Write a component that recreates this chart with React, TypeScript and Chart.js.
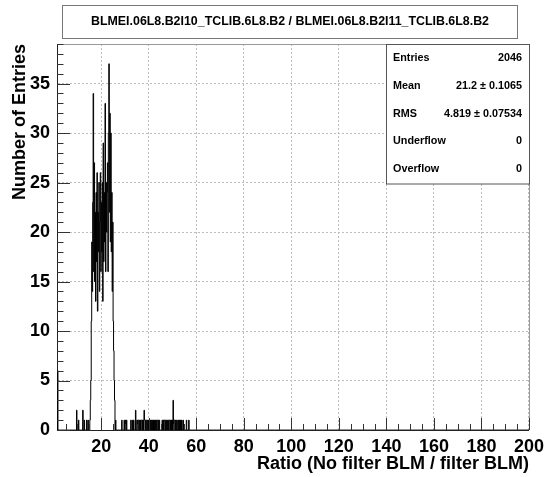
import React, { useEffect, useRef } from 'react';
import { Chart, registerables } from 'chart.js';

Chart.register(...registerables);

const TITLE = 'BLMEI.06L8.B2I10_TCLIB.6L8.B2 / BLMEI.06L8.B2I11_TCLIB.6L8.B2';
const X_TITLE = 'Ratio (No filter BLM / filter BLM)';
const Y_TITLE = 'Number of Entries';

const X_MIN = 1.4;
const X_MAX = 200;
const BIN_WIDTH = 0.2;
const Y_MIN = 0;
const Y_MAX = 39;

const xTickValues = [20, 40, 60, 80, 100, 120, 140, 160, 180, 200];
const yTickValues = [0, 5, 10, 15, 20, 25, 30, 35];
const X_MINOR_STEP = 5;
const Y_MINOR_STEP = 1;

// Main peak: consecutive bins starting at peakStart
const peakStart = 15.4;
const peakCounts = [
  3, 5, 11, 19, 14, 23, 34, 16, 27, 15,
  22, 13, 24, 17, 26, 12, 22, 18, 25, 14,
  21, 26, 16, 23, 18, 25, 13, 29, 17, 24,
  19, 33, 16, 25, 20, 24, 27, 16, 30, 37,
  22, 32, 19, 30, 18, 24, 14, 21, 11, 8,
  5, 3,
];

// Isolated bins (lower bin edge) and their counts
const sparseX = [
  1.6, 9.6, 10.4, 12.2, 12.8, 13.8, 14.4, 15.2,
  26.0, 28.6, 29.6, 30.2, 30.6, 32.4, 33.0, 33.6, 34.4,
  35.0, 35.4, 35.6, 36.0, 36.4, 36.8, 37.0, 37.4, 37.8, 38.0, 38.2, 38.6,
  39.0, 39.2, 39.6, 40.0, 40.4, 40.8, 41.2, 41.4, 41.8, 42.2, 42.6, 43.0,
  43.4, 43.6, 44.0, 44.4,
  45.6, 46.0, 46.4, 46.6, 47.0, 47.4, 47.8, 48.2, 48.6, 48.8, 49.2, 49.6,
  50.0, 50.2, 50.6, 50.8, 51.2, 51.6, 52.2, 52.6, 53.0, 53.4, 53.8,
  54.4, 55.8, 56.8,
];
const sparseCounts = [
  6, 2, 1, 2, 1, 1, 1, 1,
  1, 1, 1, 1, 1, 1, 1, 1, 2,
  1, 1, 1, 1, 1, 1, 1, 1, 1, 2, 1, 1,
  1, 1, 1, 1, 1, 1, 1, 1, 1, 1, 1, 1,
  1, 1, 1, 1,
  1, 1, 1, 1, 1, 1, 1, 1, 1, 1, 1, 1,
  1, 3, 1, 1, 1, 1, 1, 1, 1, 1, 1,
  1, 1, 1,
];

const statsLabels = ['Entries', 'Mean', 'RMS', 'Underflow', 'Overflow'];
const statsValues = ['2046', '21.2 \u00b1 0.1065', '4.819 \u00b1 0.07534', '0', '0'];

const FONT = '"Liberation Sans", Arial, Helvetica, sans-serif';

function buildPoints() {
  const nBins = Math.round((X_MAX - X_MIN) / BIN_WIDTH);
  const counts: number[] = new Array(nBins).fill(0);
  sparseX.forEach((x, i) => {
    counts[Math.round((x - X_MIN) / BIN_WIDTH)] = sparseCounts[i];
  });
  const p0 = Math.round((peakStart - X_MIN) / BIN_WIDTH);
  peakCounts.forEach((c, i) => {
    counts[p0 + i] = c;
  });
  const pts: { x: number; y: number }[] = [{ x: X_MIN, y: 0 }];
  for (let i = 0; i < nBins; i++) {
    pts.push({ x: X_MIN + i * BIN_WIDTH, y: counts[i] });
  }
  pts.push({ x: X_MAX, y: 0 });
  return pts;
}

const decorPlugin = {
  id: 'rootDecor',
  afterDraw(chart: any) {
    const { ctx, chartArea: a, scales } = chart;
    const xs = scales.x;
    const ys = scales.y;
    ctx.save();

    // frame top / right
    ctx.strokeStyle = '#999';
    ctx.lineWidth = 1;
    ctx.beginPath();
    ctx.moveTo(a.left, Math.round(a.top) + 0.5);
    ctx.lineTo(Math.round(a.right) + 0.5, Math.round(a.top) + 0.5);
    ctx.lineTo(Math.round(a.right) + 0.5, a.bottom);
    ctx.stroke();

    // ticks (inside)
    ctx.strokeStyle = '#333';
    ctx.beginPath();
    for (let v = Y_MIN; v <= Y_MAX; v += Y_MINOR_STEP) {
      const py = Math.round(ys.getPixelForValue(v)) + 0.5;
      const len = v % 5 === 0 ? 13 : 6.5;
      ctx.moveTo(a.left, py);
      ctx.lineTo(a.left + len, py);
    }
    for (let v = X_MINOR_STEP; v <= X_MAX; v += X_MINOR_STEP) {
      const px = Math.round(xs.getPixelForValue(v)) + 0.5;
      const len = v % 20 === 0 ? 12 : 6;
      ctx.moveTo(px, a.bottom);
      ctx.lineTo(px, a.bottom - len);
    }
    ctx.stroke();

    // title box
    ctx.fillStyle = '#fff';
    ctx.fillRect(62.5, 5.5, 455, 33);
    ctx.strokeStyle = '#777';
    ctx.strokeRect(62.5, 5.5, 455, 33);
    ctx.fillStyle = '#000';
    ctx.font = `bold 12.4px ${FONT}`;
    ctx.textAlign = 'center';
    ctx.textBaseline = 'middle';
    ctx.fillText(TITLE, 290, 22);

    // stats box
    const bx = 386.5;
    const by = Math.round(a.top) + 0.5;
    const bw = Math.round(a.right) - 386;
    const bh = 184 - by;
    ctx.fillStyle = '#fff';
    ctx.fillRect(bx, by, bw, bh);
    ctx.strokeStyle = '#555';
    ctx.strokeRect(bx, by, bw, bh);
    ctx.fillStyle = '#000';
    ctx.font = `bold 10.8px ${FONT}`;
    const rowY = [58, 86.5, 114, 141.5, 169];
    statsLabels.forEach((lab, i) => {
      ctx.textAlign = 'left';
      ctx.fillText(lab, 393, rowY[i]);
      ctx.textAlign = 'right';
      ctx.fillText(statsValues[i], 522, rowY[i]);
    });

    ctx.restore();
  },
};

export default function App() {
  const ref = useRef<HTMLCanvasElement | null>(null);

  useEffect(() => {
    document.body.style.margin = '0';
    const canvas = ref.current;
    if (!canvas) return;
    const chart = new Chart(canvas, {
      type: 'line',
      data: {
        datasets: [
          {
            data: buildPoints(),
            borderColor: '#000',
            borderWidth: 1,
            pointRadius: 0,
            fill: false,
            stepped: true,
            tension: 0,
          },
        ],
      },
      options: {
        animation: false,
        responsive: false,
        events: [],
        layout: { padding: { top: 44, right: 21, bottom: 0, left: 0 } },
        plugins: {
          legend: { display: false },
          tooltip: { enabled: false },
          title: { display: false },
        },
        scales: {
          x: {
            type: 'linear',
            min: X_MIN,
            max: X_MAX,
            afterBuildTicks: (s: any) => {
              s.ticks = xTickValues.map((v) => ({ value: v }));
            },
            afterFit: (s: any) => {
              s.height = 47;
            },
            grid: { color: '#bdbdbd', lineWidth: 1, drawTicks: false },
            border: { display: true, color: '#222', width: 1, dash: [2, 2] },
            ticks: {
              color: '#000',
              font: { family: FONT, size: 18, weight: 'bold' },
              padding: 6,
              maxRotation: 0,
              autoSkip: false,
              callback: (v: any) => String(v),
            },
            title: {
              display: true,
              text: X_TITLE,
              align: 'end',
              color: '#000',
              font: { family: FONT, size: 18, weight: 'bold' },
              padding: { top: 0, bottom: 2 },
            },
          },
          y: {
            type: 'linear',
            min: Y_MIN,
            max: Y_MAX,
            afterBuildTicks: (s: any) => {
              s.ticks = yTickValues.map((v) => ({ value: v }));
            },
            afterFit: (s: any) => {
              s.width = 57;
            },
            grid: { color: '#bdbdbd', lineWidth: 1, drawTicks: false },
            border: { display: true, color: '#222', width: 1, dash: [2, 2] },
            ticks: {
              color: '#000',
              font: { family: FONT, size: 18, weight: 'bold' },
              padding: 7,
              autoSkip: false,
              callback: (v: any) => String(v),
            },
            title: {
              display: true,
              text: Y_TITLE,
              align: 'end',
              color: '#000',
              font: { family: FONT, size: 18, weight: 'bold' },
              padding: { top: 9, bottom: 0 },
            },
          },
        },
      },
      plugins: [decorPlugin],
    });
    return () => chart.destroy();
  }, []);

  return (
    <div style={{ position: 'absolute', left: 0, top: 0, width: 550, height: 477, background: '#fff' }}>
      <canvas ref={ref} width={550} height={477} style={{ display: 'block', width: 550, height: 477 }} />
    </div>
  );
}
